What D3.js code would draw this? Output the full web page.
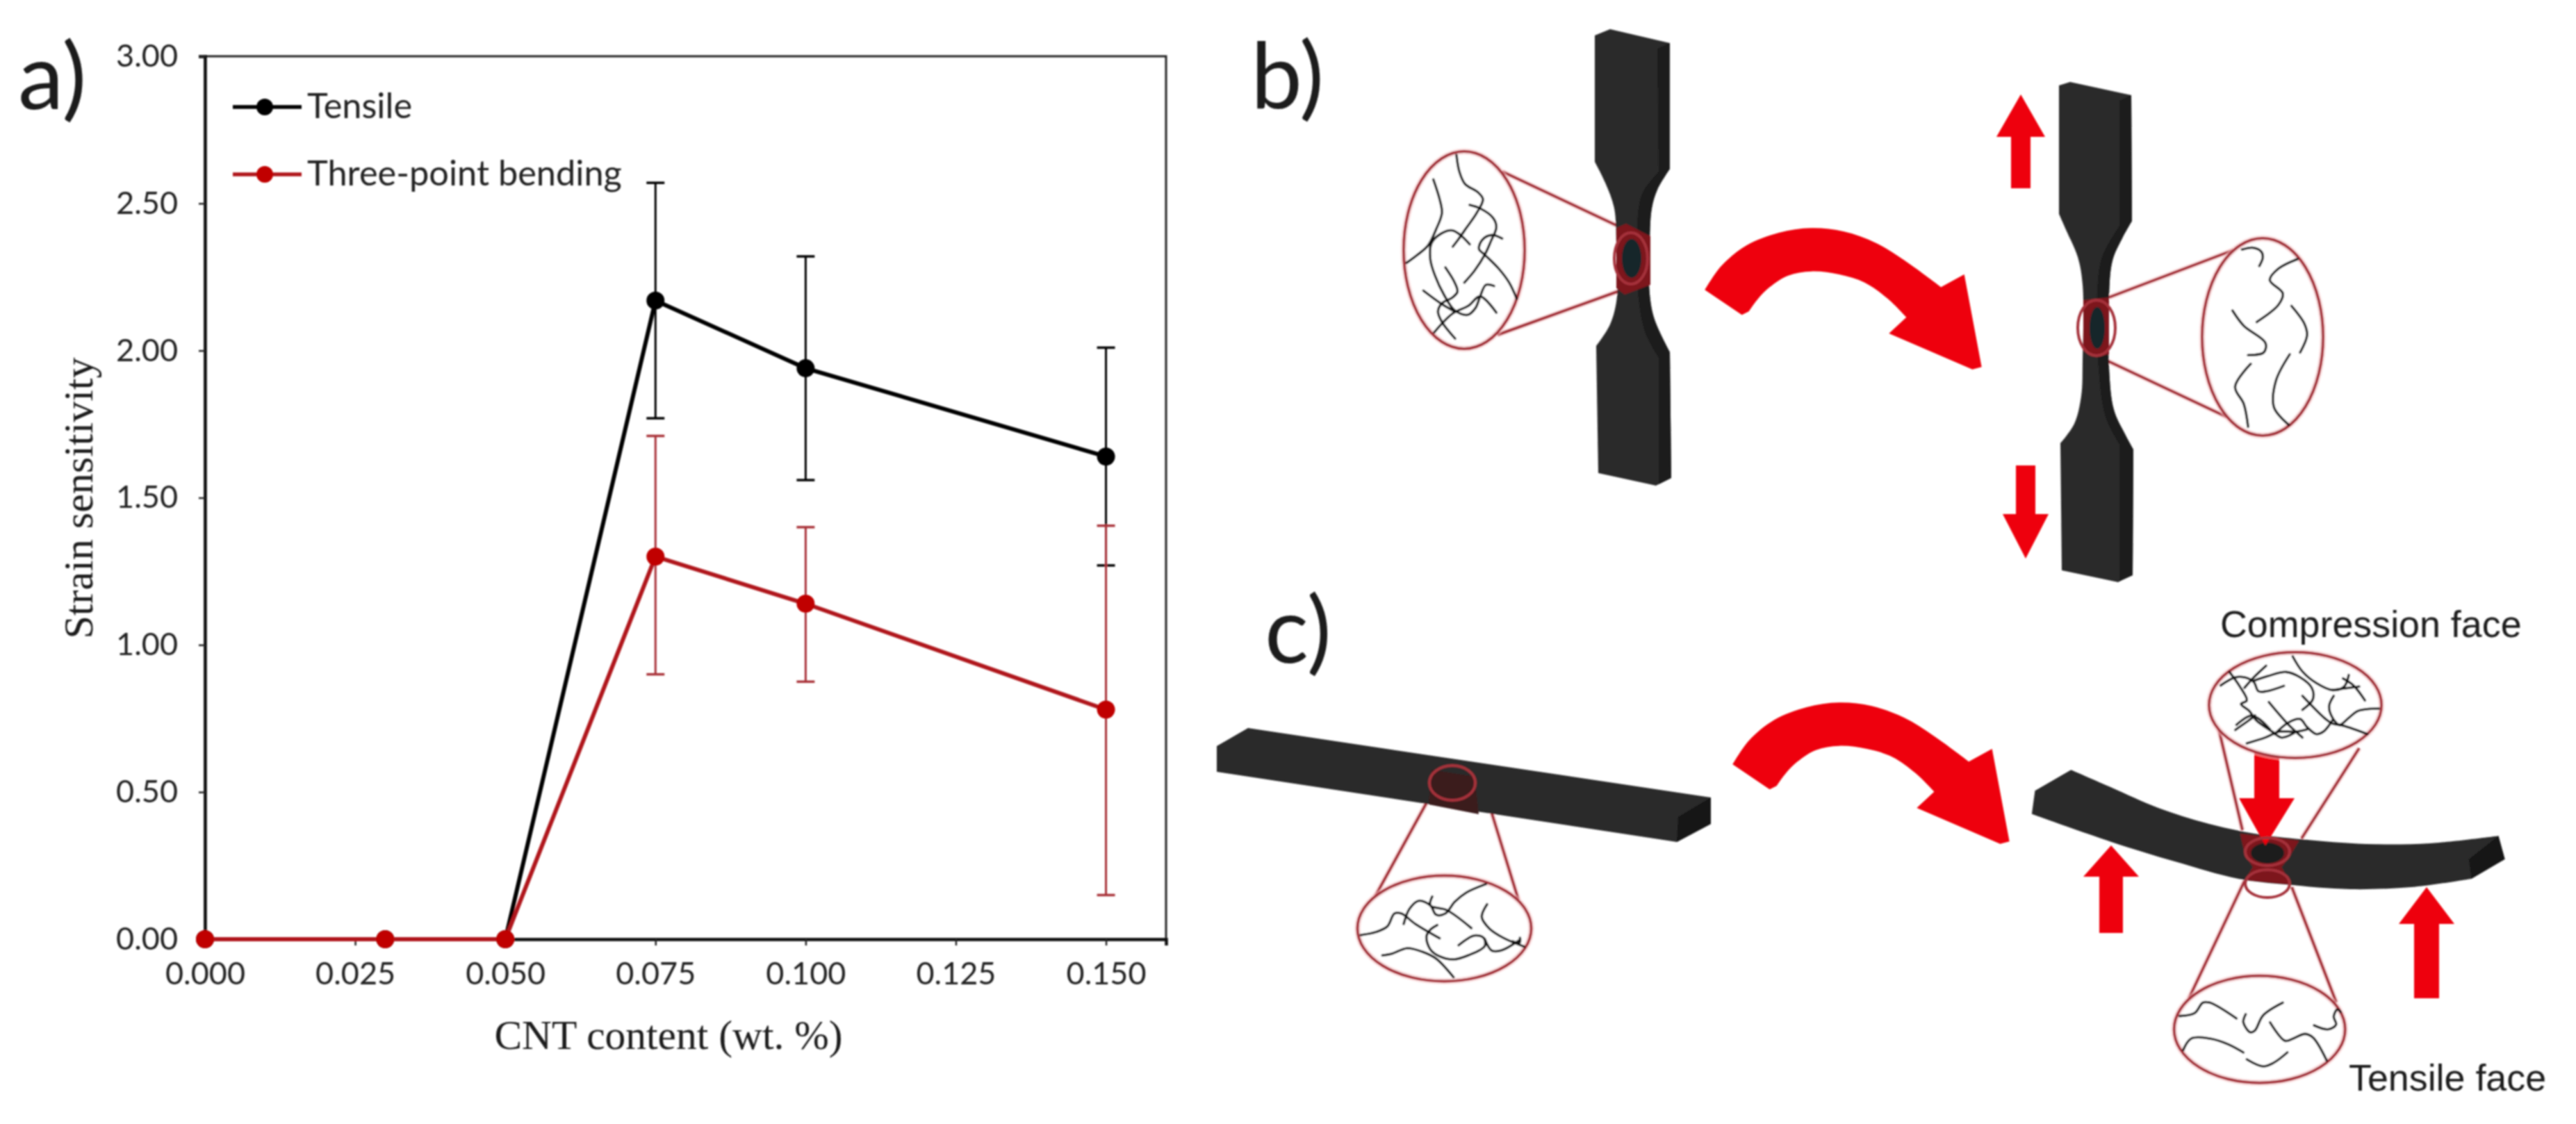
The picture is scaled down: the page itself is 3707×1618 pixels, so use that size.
<!DOCTYPE html>
<html>
<head>
<meta charset="utf-8">
<script src="https://cdn.jsdelivr.net/npm/d3@7"></script>
<style>
  body { margin: 0; background: #fff; }
  svg { display: block; }
  text { fill: #1a1a1a; }
</style>
</head>
<body>
<svg id="fig" width="3707" height="1618"></svg>
<script>
// chart values
const cntContent = [0, 0.03, 0.05, 0.075, 0.1, 0.15];
const tensile = [0, 0, 0, 2.17, 1.94, 1.64];
const tensileHigh = [null, null, null, 2.57, 2.32, 2.01];
const tensileLow = [null, null, null, 1.77, 1.56, 1.27];
const bending = [0, 0, 0, 1.30, 1.14, 0.78];
const bendingHigh = [null, null, null, 1.71, 1.40, 1.405];
const bendingLow = [null, null, null, 0.90, 0.875, 0.15];
const xTicks = [0, 0.025, 0.05, 0.075, 0.1, 0.125, 0.15];
const yTicks = [0, 0.5, 1, 1.5, 2, 2.5, 3];
const legendLabels = ["Tensile", "Three-point bending"];

const width = 3707;
const height = 1618;
const svg = d3.select("#fig").attr("viewBox", [0, 0, width, height]);

const defs = svg.append("defs");
defs.append("filter").attr("id", "soft").attr("x", "-5%").attr("y", "-5%").attr("width", "110%").attr("height", "110%")
  .append("feGaussianBlur").attr("stdDeviation", 1.3);
defs.append("filter").attr("id", "softer").attr("x", "-5%").attr("y", "-5%").attr("width", "110%").attr("height", "110%")
  .append("feGaussianBlur").attr("stdDeviation", 0.8);

/* ---------- panel a ---------- */
const x = d3.scaleLinear().domain([0, 0.16]).range([295, 1678]);
const y = d3.scaleLinear().domain([0, 3]).range([1352, 81]);
const black = "#000", red = "#b0181c", redBar = "#a83338", redDot = "#c00000";

const chart = svg.append("g").attr("filter", "url(#softer)");

chart.append("rect")
  .attr("x", x(0)).attr("y", y(3))
  .attr("width", x(0.16) - x(0)).attr("height", y(0) - y(3))
  .attr("fill", "none").attr("stroke", "#222").attr("stroke-width", 3);

const xAxis = chart.append("g")
  .attr("transform", `translate(0,${y(0)})`)
  .call(d3.axisBottom(x).tickValues(xTicks).tickFormat(d3.format(".3f")).tickSize(9).tickPadding(24));
const yAxis = chart.append("g")
  .attr("transform", `translate(${x(0)},0)`)
  .call(d3.axisLeft(y).tickValues(yTicks).tickFormat(d3.format(".2f")).tickSize(9).tickPadding(30));
for (const ax of [xAxis, yAxis]) {
  ax.select(".domain").attr("stroke", "#111").attr("stroke-width", 4.5);
  ax.selectAll(".tick line").attr("stroke", "#222").attr("stroke-width", 2.5);
  ax.selectAll("text").style("font-family", "Lato").style("font-size", "45px").style("fill", "#222");
}

function drawSeries(values, high, low, lineColor, barColor, dotColor) {
  const rows = cntContent.map((c, i) => ({ c, v: values[i], hi: high[i], lo: low[i] }));
  const bars = rows.filter(d => d.hi !== null);
  const capW = x(0.0015) - x(0);
  const g = chart.append("g");
  g.selectAll(".bar").data(bars).join("line")
    .attr("x1", d => x(d.c)).attr("x2", d => x(d.c))
    .attr("y1", d => y(d.hi)).attr("y2", d => y(d.lo))
    .attr("stroke", barColor).attr("stroke-width", 3);
  for (const key of ["hi", "lo"]) {
    g.selectAll(".cap-" + key).data(bars).join("line")
      .attr("x1", d => x(d.c) - capW).attr("x2", d => x(d.c) + capW)
      .attr("y1", d => y(d[key])).attr("y2", d => y(d[key]))
      .attr("stroke", barColor).attr("stroke-width", 3.5);
  }
  g.append("path")
    .attr("d", d3.line().x(d => x(d.c)).y(d => y(d.v))(rows))
    .attr("fill", "none").attr("stroke", lineColor).attr("stroke-width", 6);
  g.selectAll("circle").data(rows).join("circle")
    .attr("cx", d => x(d.c)).attr("cy", d => y(d.v)).attr("r", 13)
    .attr("fill", dotColor);
}
drawSeries(tensile, tensileHigh, tensileLow, black, black, black);
drawSeries(bending, bendingHigh, bendingLow, red, redBar, redDot);

chart.append("text").attr("x", 962).attr("y", 1510).attr("text-anchor", "middle")
  .style("font-family", "Liberation Serif").style("font-size", "59.5px").text("CNT content (wt. %)");
chart.append("text").attr("transform", "translate(133,717) rotate(-90)").attr("text-anchor", "middle")
  .style("font-family", "Liberation Serif").style("font-size", "60px").text("Strain sensitivity");

const legendRows = [
  { label: legendLabels[0], ly: 154, line: black, dot: black },
  { label: legendLabels[1], ly: 251, line: red, dot: redDot }
];
const legend = chart.selectAll(".legend").data(legendRows).join("g");
legend.append("line").attr("x1", 335).attr("x2", 434).attr("y1", d => d.ly).attr("y2", d => d.ly)
  .attr("stroke", d => d.line).attr("stroke-width", 5.5);
legend.append("circle").attr("cx", 381).attr("cy", d => d.ly).attr("r", 12).attr("fill", d => d.dot);
legend.append("text").attr("x", 442).attr("y", d => d.ly + 16)
  .style("font-family", "Lato").style("font-size", "50.5px").style("fill", "#222").text(d => d.label);

/* ---------- panels b and c: the specimen sketches ---------- */
const art = svg.append("g").attr("filter", "url(#soft)");
const smooth = d3.line().curve(d3.curveCatmullRom.alpha(0.5));
const crop = (ox, oy, kx, ky = kx) => pts => pts.map(([a, b]) => [ox + a * kx, oy + b * ky]);
const outline = (...segs) => segs.map((s, i) => (i ? "L" + smooth(s).slice(1) : smooth(s))).join("") + "Z";
const bodyGrey = "#2b2b2b", sideGrey = "#1b1b1b", ringRed = "#a5323b", tint = "#7d181e";

function shape(d, fill) { art.append("path").attr("d", d).attr("fill", fill); }
function ring(cx, cy, rx, ry, halo = false) {
  if (halo) {
    art.append("ellipse").attr("cx", cx).attr("cy", cy).attr("rx", rx).attr("ry", ry)
      .attr("fill", "none").attr("stroke", "#f7c6c9").attr("stroke-width", 9).attr("opacity", 0.55);
  }
  art.append("ellipse").attr("cx", cx).attr("cy", cy).attr("rx", rx).attr("ry", ry)
    .attr("fill", "none").attr("stroke", ringRed).attr("stroke-width", 4);
}
function bigRing(cx, cy, rx, ry) {
  art.append("ellipse").attr("cx", cx).attr("cy", cy).attr("rx", rx).attr("ry", ry).attr("fill", "#fff");
  ring(cx, cy, rx, ry, true);
}
function coneLine(a, b) {
  art.append("line").attr("x1", a[0]).attr("y1", a[1]).attr("x2", b[0]).attr("y2", b[1])
    .attr("stroke", "#f7c6c9").attr("stroke-width", 8).attr("opacity", 0.55);
  art.append("line").attr("x1", a[0]).attr("y1", a[1]).attr("x2", b[0]).attr("y2", b[1])
    .attr("stroke", ringRed).attr("stroke-width", 4);
}
function fibres(list, toPage) {
  art.append("g").selectAll("path").data(list).join("path")
    .attr("d", d => smooth(toPage(d)))
    .attr("fill", "none").attr("stroke", "#181818").attr("stroke-width", 3.6)
    .attr("stroke-linecap", "round").attr("stroke-linejoin", "round");
}
function block(points, fill) { shape(d3.line()(points) + "Z", fill); }

// straight arrow: tip, half head width, half shaft width, y of head base, y of tail, shaft centre
function arrow(tx, ty, headW, shaftW, baseY, tailY, cx = tx) {
  block([[tx, ty], [cx + headW, baseY], [cx + shaftW, baseY], [cx + shaftW, tailY],
         [cx - shaftW, tailY], [cx - shaftW, baseY], [cx - headW, baseY]], "#ee0008");
}

// --- b, left dog-bone
coneLine([2162, 247], [2338, 330]);
coneLine([2155, 482], [2338, 416]);
shape(outline(
  [[2295, 51], [2317, 42]], [[2317, 42], [2403, 62]], [[2403, 62], [2403, 243]],
  [[2403, 243], [2385, 273], [2377, 300], [2374, 345], [2373, 410], [2380, 457], [2403, 507]],
  [[2403, 507], [2405, 688]], [[2405, 688], [2383, 699]], [[2383, 699], [2300, 681]], [[2300, 681], [2297, 498]],
  [[2297, 498], [2317, 467], [2327, 427], [2326, 350], [2323, 300], [2310, 263], [2295, 233]]
), bodyGrey);
shape(outline(
  [[2385, 70], [2403, 62]], [[2403, 62], [2403, 243]],
  [[2403, 243], [2385, 273], [2377, 300], [2374, 345], [2373, 410], [2380, 457], [2403, 507]],
  [[2403, 507], [2405, 688]], [[2405, 688], [2387, 697]], [[2387, 697], [2387, 515]],
  [[2387, 515], [2368, 480], [2358, 430], [2356, 360], [2358, 300], [2365, 275], [2387, 247]]
), sideGrey);
block([[2326, 328], [2340, 322], [2375, 340], [2375, 410], [2338, 424], [2326, 415]], tint);
art.append("ellipse").attr("cx", 2348).attr("cy", 372).attr("rx", 14).attr("ry", 28).attr("fill", "#17262c");
ring(2347, 372, 24, 37);
bigRing(2107, 360, 87, 142);
fibres([
  [[318, 610], [330, 680], [355, 735], [410, 770], [432, 800], [405, 860], [360, 925], [325, 975], [302, 1005]],
  [[218, 715], [245, 800], [255, 860], [230, 930], [195, 1000], [150, 1040], [103, 1075]],
  [[375, 825], [420, 840], [475, 880], [490, 920], [465, 985], [440, 1040], [395, 1110], [352, 1160]],
  [[375, 995], [335, 955], [300, 935], [250, 950], [210, 990], [205, 1060], [225, 1130], [265, 1215], [310, 1280], [365, 1300], [400, 1270], [420, 1220], [445, 1170], [480, 1175]],
  [[515, 970], [470, 955], [430, 975], [415, 1015], [440, 1040], [500, 1100], [545, 1160], [578, 1230]],
  [[270, 1095], [310, 1160], [322, 1200], [300, 1225], [255, 1250], [238, 1285], [255, 1330], [312, 1402]],
  [[175, 1195], [250, 1250], [310, 1285]],
  [[222, 1375], [300, 1295], [370, 1260], [420, 1220], [490, 1290]]
], crop(1990, 20, 1 / 3));

// --- b, right dog-bone (stretched)
coneLine([3035, 428], [3214, 360]);
coneLine([3017, 512], [3204, 600]);
shape(outline(
  [[2963, 123], [2979, 118]], [[2979, 118], [3067, 137]], [[3067, 137], [3068, 318]],
  [[3068, 318], [3054, 343], [3040, 375], [3035, 425], [3035, 530], [3042, 590], [3058, 625], [3070, 647]],
  [[3070, 647], [3069, 828]], [[3069, 828], [3048, 838]], [[3048, 838], [2967, 821]], [[2967, 821], [2965, 638]],
  [[2965, 638], [2985, 610], [2995, 570], [2997, 520], [2997, 410], [2990, 370], [2975, 335], [2963, 308]]
), bodyGrey);
shape(outline(
  [[3050, 145], [3067, 137]], [[3067, 137], [3068, 318]],
  [[3068, 318], [3054, 343], [3040, 375], [3035, 425], [3035, 530], [3042, 590], [3058, 625], [3070, 647]],
  [[3070, 647], [3069, 828]], [[3069, 828], [3050, 836]], [[3050, 836], [3050, 640]],
  [[3050, 640], [3030, 600], [3020, 530], [3018, 420], [3025, 370], [3050, 325]]
), sideGrey);
block([[2998, 432], [3035, 428], [3035, 510], [3017, 513], [2998, 505]], tint);
art.append("ellipse").attr("cx", 3018).attr("cy", 472).attr("rx", 11).attr("ry", 30).attr("fill", "#17262c");
ring(3017, 472, 27, 40);
bigRing(3256, 485, 87, 142);
fibres([
  [[1183, 655], [1195, 650], [1205, 660], [1207, 675], [1203, 698]],
  [[1247, 680], [1225, 705], [1215, 735], [1230, 770], [1225, 800], [1200, 845]],
  [[1172, 815], [1185, 855], [1210, 900], [1208, 925], [1190, 932]],
  [[1240, 803], [1255, 850], [1258, 880], [1250, 925]],
  [[1193, 955], [1175, 1015], [1185, 1060], [1190, 1120]],
  [[1238, 930], [1222, 1000], [1220, 1070], [1237, 1115]]
], crop(1750, 0, 1.248, 0.5485));

arrow(2908, 136, 35, 14, 197, 271);
arrow(2915, 804, 33, 14, 740, 670);

// --- curved arrows
const curvedOuter = [[160, 352], [230, 250], [340, 160], [480, 105], [620, 85], [760, 100], [900, 150], [1030, 230], [1180, 340]];
const curvedInner = [[1030, 470], [950, 390], [850, 320], [740, 285], [620, 272], [520, 290], [440, 340], [390, 390], [350, 445]];
const curvedHead = [[1180, 340], [1280, 285], [1355, 685], [1315, 695], [955, 540], [1030, 470]];
function curvedArrow(toPage) {
  const head = toPage(curvedHead);
  shape(smooth(toPage(curvedOuter)) + d3.line()(head).replace("M", "L") + smooth(toPage(curvedInner)).replace("M", "L")
    + d3.line()(toPage([[350, 445], [320, 460]])).replace("M", "L") + "Z", "#ee0008");
}
curvedArrow(crop(2400, 300, 1 / 3));
curvedArrow(crop(2440, 983, 1 / 3));

// --- c, straight beam
coneLine([2056, 1150], [1978, 1292]);
coneLine([2142, 1155], [2185, 1295]);
const beamFlat = [[1796, 1048], [2462, 1148], [2462, 1186], [2413, 1212], [1751, 1111], [1751, 1074]];
block(beamFlat, bodyGrey);
block([[2462, 1148], [2462, 1186], [2413, 1212], [2415, 1176]], "#121212");
block([[2060, 1108], [2122, 1118], [2128, 1172], [2056, 1158]], "#3a1a1d");
ring(2090, 1127, 33, 25);
bigRing(2078.5, 1336.5, 125, 76);
fibres([
  [[175, 378], [240, 365], [290, 340], [320, 285], [350, 285], [410, 330], [515, 392]],
  [[360, 330], [385, 265], [425, 230], [475, 250], [500, 290], [540, 285], [580, 235], [630, 195], [715, 158]],
  [[483, 212], [475, 250], [545, 270], [652, 348]],
  [[720, 245], [697, 300], [730, 350], [790, 390], [880, 428]],
  [[505, 335], [475, 355], [458, 385], [475, 440], [515, 470], [575, 483], [640, 465], [710, 425], [705, 390], [665, 380], [597, 422]],
  [[268, 466], [310, 458], [375, 435], [440, 450], [500, 480], [575, 560]],
  [[710, 395], [740, 445], [780, 445], [860, 400]],
  [[830, 405], [860, 412], [862, 390]]
], crop(1900, 1220, 1 / 3));

// --- c, bent beam
const bentPage = crop(2900, 1060, 0.459, 1 / 3);
coneLine([3190, 1037], [3227, 1195]);
coneLine([3395, 1077], [3312, 1207]);
coneLine([3230, 1268], [3150, 1437]);
coneLine([3298, 1277], [3362, 1443]);
shape(outline(
  bentPage([[175, 145], [300, 220], [450, 310], [600, 375], [750, 420], [900, 445], [1100, 465], [1300, 462], [1515, 430]]),
  bentPage([[1515, 430], [1535, 530]]), bentPage([[1535, 530], [1430, 615]]),
  bentPage([[1430, 615], [1250, 650], [1050, 660], [850, 640], [700, 615], [500, 540], [300, 455], [52, 335]]),
  bentPage([[52, 335], [62, 235]])
), bodyGrey);
block(bentPage([[1515, 430], [1535, 530], [1430, 615], [1422, 530]]), "#161616");
block(bentPage([[705, 420], [890, 450], [860, 520], [835, 565], [865, 640], [720, 620], [745, 565], [720, 510]]), tint);
art.append("ellipse").attr("cx", 3263).attr("cy", 1228).attr("rx", 24).attr("ry", 15).attr("fill", "#1c1c1e");

// force arrows of the three-point load
arrow(3260, 1217, 40, 18, 1149, 1060, 3262);
arrow(3038, 1217, 40, 17, 1262, 1343);
arrow(3492, 1277, 40, 18, 1330, 1437);

ring(3263, 1226, 32, 20);
ring(3263, 1272, 32, 20);
bigRing(3303, 1015, 124, 76);
bigRing(3251.7, 1481.7, 123, 77);

fibres([
  [[347, 320], [410, 285], [450, 285], [490, 305], [510, 345], [545, 345], [620, 322]],
  [[543, 235], [490, 285], [450, 330]],
  [[385, 262], [430, 325], [460, 385], [435, 400], [470, 430], [500, 470], [525, 490], [570, 520], [610, 545], [665, 525]],
  [[490, 300], [550, 280], [630, 262], [690, 285], [740, 330], [745, 380], [700, 425]],
  [[658, 195], [700, 260], [760, 310], [830, 340], [880, 325], [900, 275]],
  [[875, 290], [920, 320], [970, 385]],
  [[830, 340], [945, 325]],
  [[700, 365], [800, 465], [830, 485], [880, 495], [980, 530]],
  [[555, 392], [640, 490], [700, 545]],
  [[835, 365], [815, 410], [830, 460], [860, 490], [900, 460], [940, 430], [1030, 420]],
  [[410, 512], [470, 470], [495, 450]],
  [[415, 490], [480, 450], [520, 470], [560, 510]],
  [[580, 530], [640, 480], [690, 465], [720, 500], [760, 530], [790, 520], [830, 470]],
  [[460, 570], [540, 545], [600, 520], [670, 520], [720, 510]]
], crop(3080, 880, 1 / 3));

fibres([
  [[170, 698], [235, 685], [270, 640], [300, 640], [415, 708]],
  [[455, 690], [445, 725], [475, 768], [495, 760], [530, 695], [615, 640]],
  [[560, 725], [625, 805], [660, 795], [710, 775], [745, 790], [805, 890]],
  [[750, 738], [810, 755], [845, 735], [835, 700], [850, 670], [865, 680]],
  [[185, 845], [220, 795], [300, 795], [380, 820], [445, 855]],
  [[460, 885], [530, 915], [575, 900], [635, 855]]
], crop(3080, 1230, 1 / 3));

/* ---------- texts ---------- */
const labels = svg.append("g").attr("filter", "url(#softer)");
const panelLetters = [["a)", 26, 157], ["b)", 1800, 156], ["c)", 1820, 954]];
labels.selectAll(".panel").data(panelLetters).join("text")
  .attr("x", d => d[1]).attr("y", d => d[2])
  .style("font-family", "Lato").style("font-size", "132px").text(d => d[0]);
const faceLabels = [["Compression face", 3195, 917], ["Tensile face", 3380, 1570]];
labels.selectAll(".face").data(faceLabels).join("text")
  .attr("x", d => d[1]).attr("y", d => d[2])
  .style("font-family", "Liberation Sans").style("font-size", "53.8px").text(d => d[0]);
</script>
</body>
</html>
